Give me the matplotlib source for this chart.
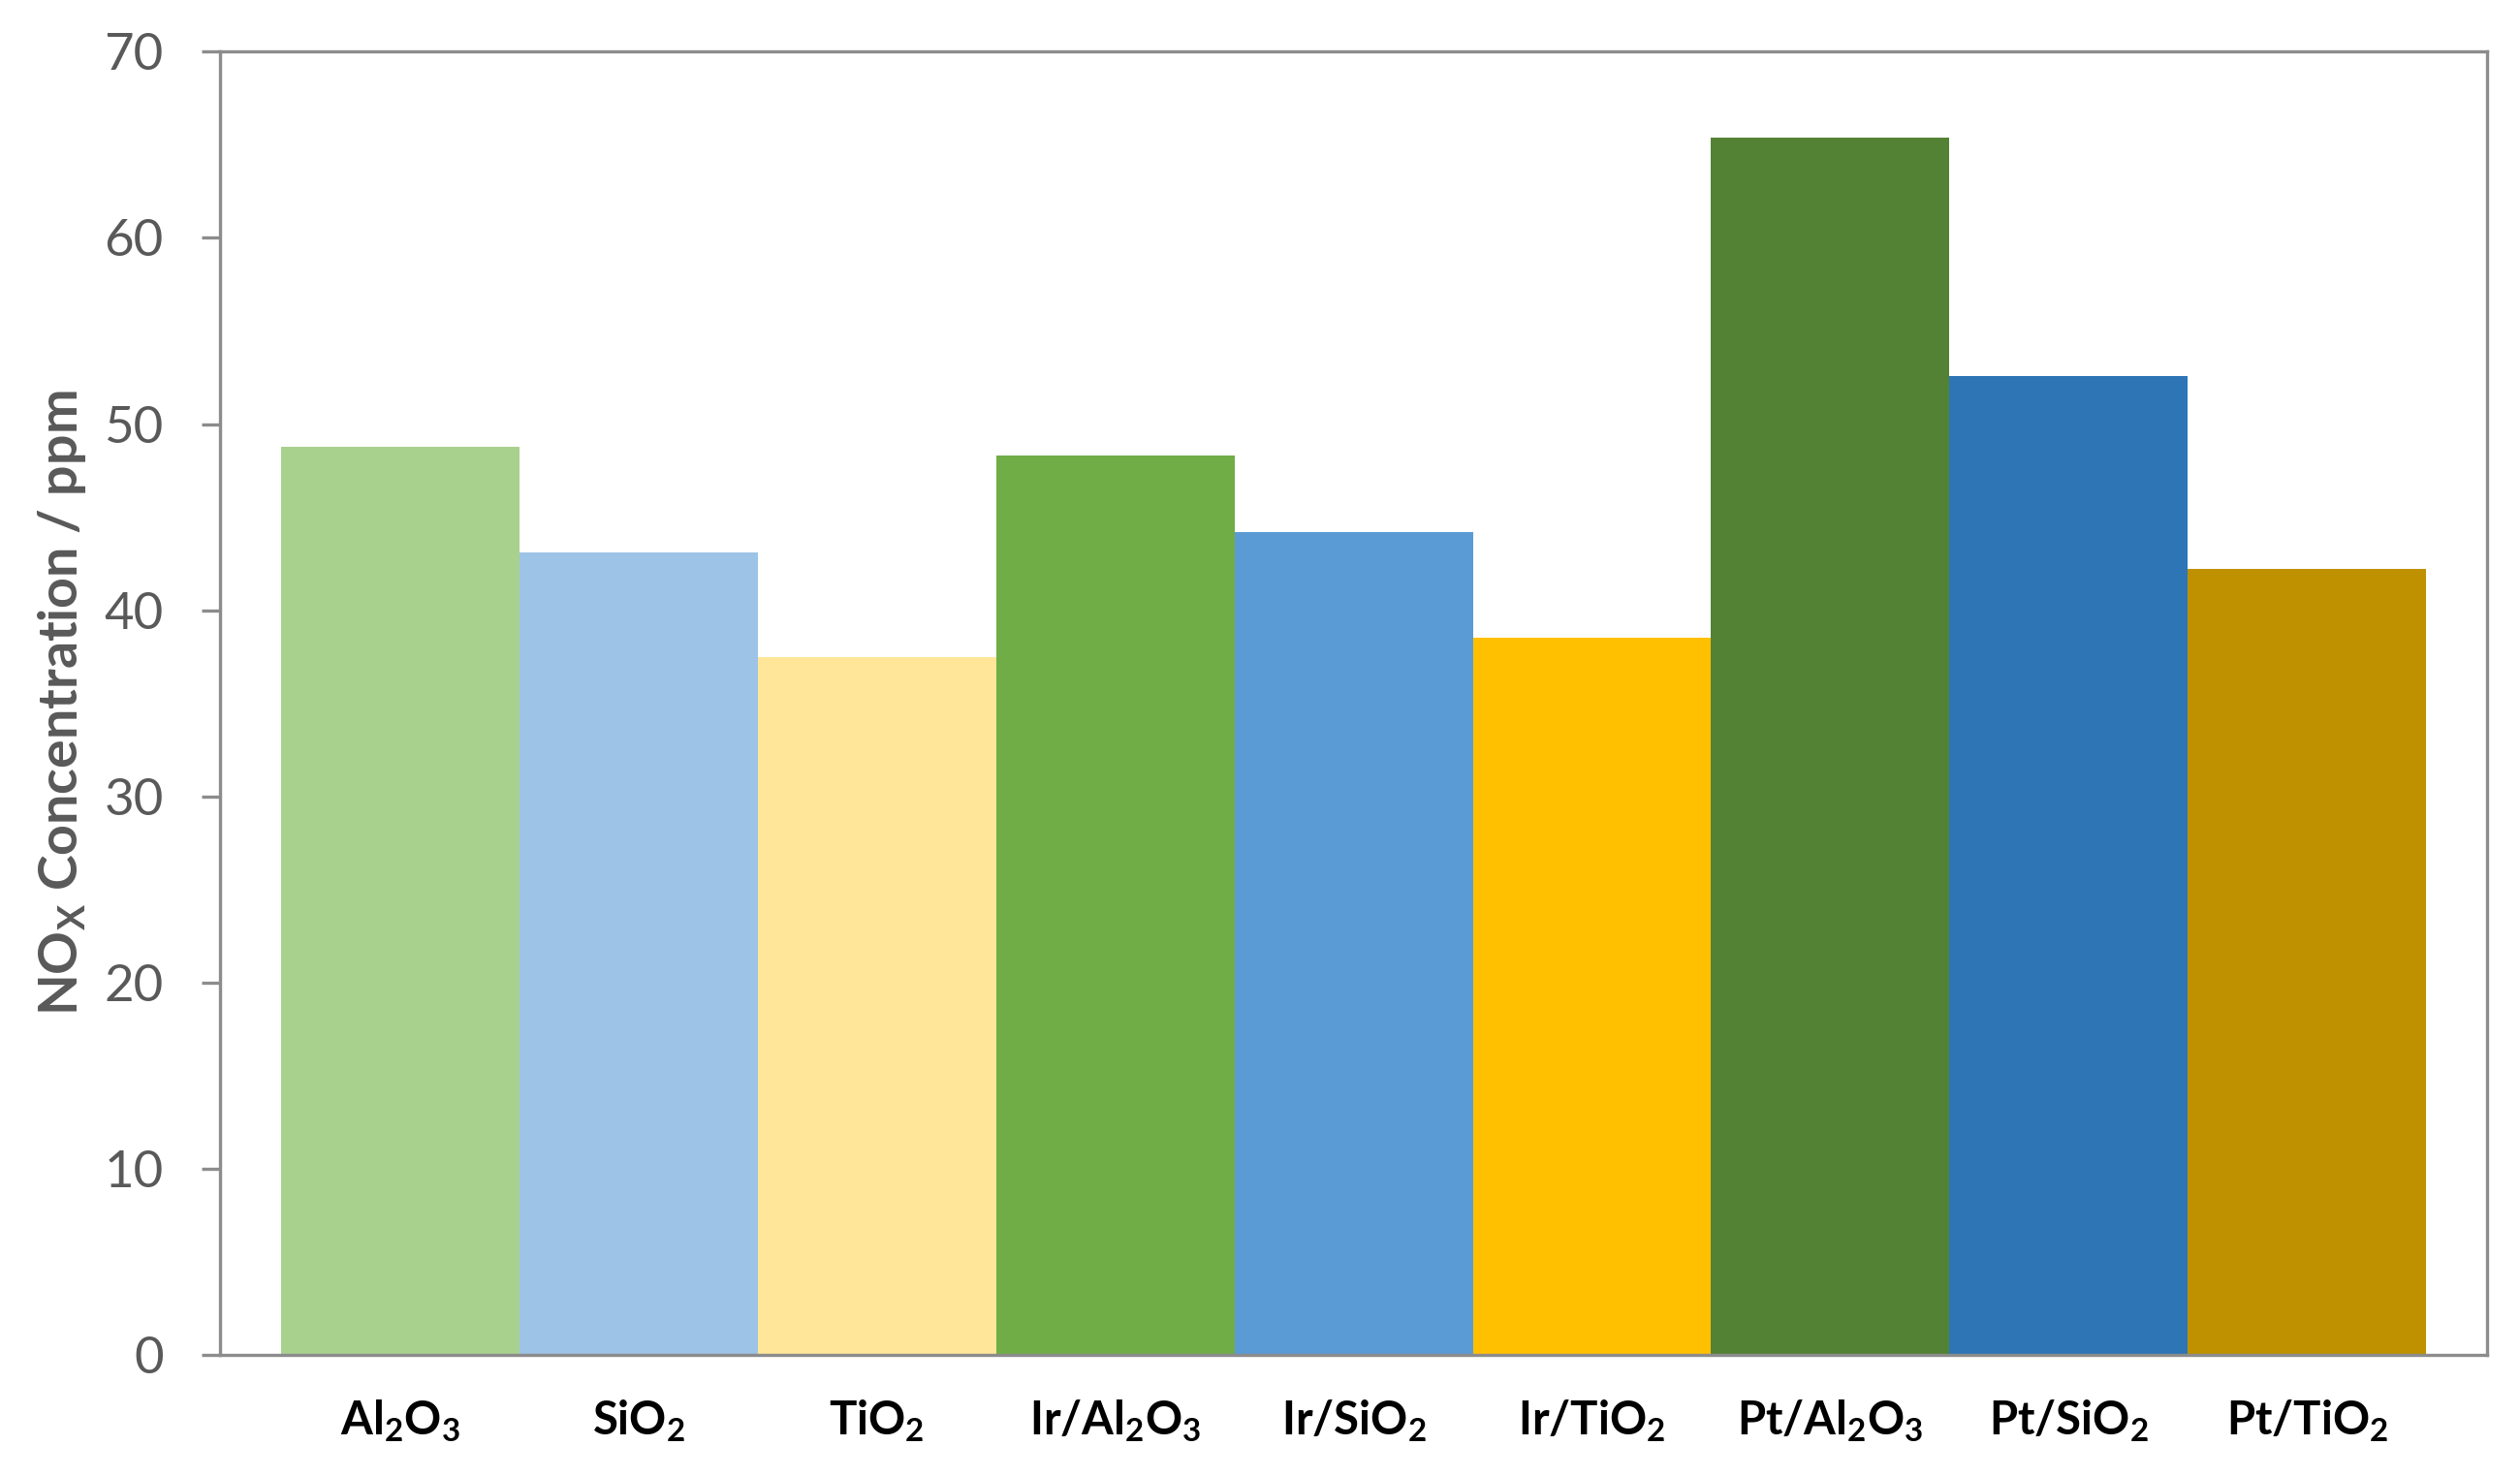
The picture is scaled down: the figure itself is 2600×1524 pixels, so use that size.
import matplotlib
matplotlib.use("Agg")
import matplotlib.pyplot as plt

categories = [r"Al$_2$O$_3$", r"SiO$_2$", r"TiO$_2$", r"Ir/Al$_2$O$_3$", r"Ir/SiO$_2$",
              r"Ir/TiO$_2$", r"Pt/Al$_2$O$_3$", r"Pt/SiO$_2$", r"Pt/TiO$_2$"]
values = [48.8, 43.1, 37.5, 48.3, 44.2, 38.5, 65.4, 52.6, 42.2]
colors = ["#A9D18E", "#9DC3E6", "#FFE699", "#70AD47", "#5B9BD5",
          "#FFC000", "#548235", "#2E75B6", "#BF9000"]
yticks = [0, 10, 20, 30, 40, 50, 60, 70]

plt.rcParams["font.family"] = ["Lato", "DejaVu Sans"]
plt.rcParams["mathtext.fontset"] = "custom"
plt.rcParams["mathtext.rm"] = "Lato:bold"
plt.rcParams["mathtext.bf"] = "Lato:bold"
plt.rcParams["mathtext.default"] = "rm"

fig = plt.figure(figsize=(26, 15.24), dpi=100)
ax = fig.add_axes([0.0873, 0.0827, 0.8997, 0.8823])

x = list(range(len(values)))
ax.bar(x, values, width=1.0, color=colors, edgecolor="none", zorder=2)

ax.set_ylim(0, 70)
ax.set_xlim(-0.756, 8.756)
ax.set_yticks(yticks)
ax.set_yticklabels([str(t) for t in yticks], fontsize=38, color="#595959")
ax.set_xticks(x)
ax.set_xticklabels(categories, fontsize=34, fontweight="bold", color="black")

spine_color = "#8C8C8C"
for s in ax.spines.values():
    s.set_color(spine_color)
    s.set_linewidth(2.4)
    s.set_zorder(3)

ax.tick_params(axis="y", direction="out", length=14, width=2.4, color=spine_color, pad=28)
ax.tick_params(axis="x", length=0, pad=32)

ax.set_ylabel(r"NO$_\mathrm{X}$ Concentration / ppm", fontsize=40, fontweight="bold",
              color="#595959", labelpad=12)

fig.savefig("out.png", dpi=100, facecolor="white")
